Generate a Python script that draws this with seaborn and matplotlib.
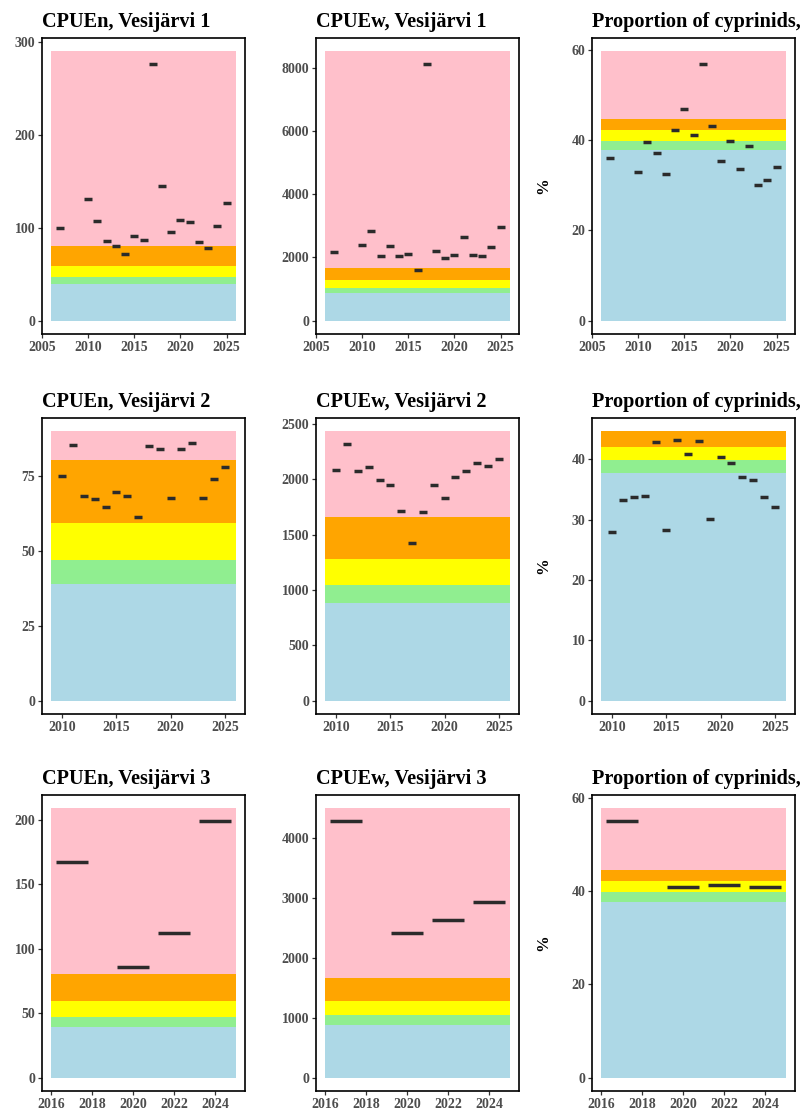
import numpy as np
import pandas as pd
import matplotlib
matplotlib.use("Agg")
import matplotlib.pyplot as plt
import seaborn as sns

# ---------------- data ----------------
years1 = [2007, 2010, 2011, 2012, 2013, 2014, 2015, 2016, 2017, 2018,
          2019, 2020, 2021, 2022, 2023, 2024, 2025]
cpuen1 = [99.6, 131, 107.3, 85.5, 80.8, 71.5, 90.8, 86.5, 276, 145.2,
          95.5, 108, 105.8, 84.7, 78, 101.9, 126.6]
cpuew1 = [2152, 2383, 2824, 2026, 2373, 2047, 2110, 1596, 8105, 2205,
          1984, 2079, 2656, 2068, 2037, 2341, 2950]
prop1 = [35.9, 32.9, 39.6, 37.1, 32.4, 42.3, 46.9, 41.2, 56.8, 43.0,
         35.4, 39.8, 33.5, 38.6, 30.1, 31.1, 33.9]

years2 = [2010, 2011, 2012, 2013, 2014, 2015, 2016, 2017, 2018, 2019,
          2020, 2021, 2022, 2023, 2024, 2025]
cpuen2 = [75, 85.6, 68.3, 67.3, 64.9, 69.7, 68.3, 61.3, 85.3, 84.2,
          67.7, 84.1, 86, 67.6, 74.2, 78.2]
cpuew2 = [2089, 2320, 2077, 2113, 1993, 1951, 1711, 1426, 1702, 1951,
          1828, 2020, 2074, 2152, 2119, 2188]
prop2 = [27.9, 33.2, 33.8, 33.85, 42.8, 28.2, 43.2, 40.8, 43.1, 30.05,
         40.4, 39.3, 37.1, 36.6, 33.7, 32.1]

years3 = [2017, 2020, 2022, 2024]
cpuen3 = [167.5, 85.9, 112, 199.2]
cpuew3 = [4289, 2411, 2633, 2933]
prop3 = [55, 40.95, 41.2, 40.8]

# class boundaries (blue, green, yellow, orange, pink start)
cpuen_bounds = [0, 39, 47, 59.3, 80.3]
cpuew_bounds = [0, 885, 1045, 1280, 1658]
prop_bounds = [0, 37.7, 39.8, 42.1, 44.6]
band_colors = ["lightblue", "lightgreen", "yellow", "orange", "pink"]

# upper end of the coloured background per panel
band_top = [[290, 8510, 59.6],
            [90, 2434, 44.6],
            [209, 4500, 57.7]]

titles = [["CPUEn, Vesijärvi 1", "CPUEw, Vesijärvi 1", "Proportion of cyprinids,"],
          ["CPUEn, Vesijärvi 2", "CPUEw, Vesijärvi 2", "Proportion of cyprinids,"],
          ["CPUEn, Vesijärvi 3", "CPUEw, Vesijärvi 3", "Proportion of cyprinids,"]]

yticks = [[[0, 100, 200, 300], [0, 2000, 4000, 6000, 8000], [0, 20, 40, 60]],
          [[0, 25, 50, 75], [0, 500, 1000, 1500, 2000, 2500], [0, 10, 20, 30, 40]],
          [[0, 50, 100, 150, 200], [0, 1000, 2000, 3000, 4000], [0, 20, 40, 60]]]
xticks = [[2005, 2010, 2015, 2020, 2025],
          [2010, 2015, 2020, 2025],
          [2016, 2018, 2020, 2022, 2024]]

rows = [(years1, [cpuen1, cpuew1, prop1]),
        (years2, [cpuen2, cpuew2, prop2]),
        (years3, [cpuen3, cpuew3, prop3])]
bounds = [cpuen_bounds, cpuew_bounds, prop_bounds]

# ---------------- style ----------------
sns.set_theme(style="ticks")
plt.rcParams["font.family"] = ["Liberation Serif", "DejaVu Serif"]
plt.rcParams["font.weight"] = "bold"

W, H = 803, 1110
fig = plt.figure(figsize=(W / 100, H / 100), dpi=100)
fig.patch.set_facecolor("white")

col_left = [42, 316, 592]
ax_w = 203
row_top = [38, 418, 795]
ax_h = 296

tick_color = "#4d4d4d"
dash_color = "#2b2b2b"

for r, (yrs, series) in enumerate(rows):
    x0b, x1b = min(yrs) - 1, max(yrs) + 1
    res = np.min(np.diff(yrs))
    for c in range(3):
        ax = fig.add_axes([col_left[c] / W, 1 - (row_top[r] + ax_h) / H, ax_w / W, ax_h / H])
        ax.set_facecolor("white")
        top = band_top[r][c]
        edges = bounds[c] + [top]
        for k in range(5):
            lo, hi = edges[k], min(edges[k + 1], top)
            if hi > lo:
                ax.fill_between([x0b, x1b], lo, hi, color=band_colors[k], linewidth=0, zorder=1)
        ex = 0.05 * (x1b - x0b)
        ax.set_xlim(x0b - ex, x1b + ex)
        ax.set_ylim(-0.05 * top, top * 1.05)

        # dash width in points from data resolution
        p0 = ax.transData.transform((0, 0))
        p1 = ax.transData.transform((1, 0))
        pts_per_unit = (p1[0] - p0[0]) * 72 / fig.dpi
        msize = 0.78 * res * pts_per_unit
        df = pd.DataFrame({"year": yrs, "value": series[c]})
        sns.scatterplot(data=df, x="year", y="value", ax=ax, marker="_",
                        s=msize ** 2, linewidth=2.5, color=dash_color, zorder=3)

        ax.set_xticks(xticks[r])
        ax.set_yticks(yticks[r][c])
        ax.set_xlabel("")
        ax.set_ylabel("")
        ax.tick_params(axis="both", which="major", length=3.2, width=0.9,
                       color="#333333", labelcolor=tick_color, labelsize=10, pad=1.5)
        for lab in ax.get_xticklabels() + ax.get_yticklabels():
            lab.set_fontweight("bold")
        for sp in ax.spines.values():
            sp.set_visible(True)
            sp.set_color("black")
            sp.set_linewidth(1.2)
        ax.set_title(titles[r][c], loc="left", fontsize=14.6, fontweight="bold",
                     color="black", pad=8)
        if c == 2:
            ax.set_ylabel("%", fontsize=12, fontweight="bold", color="black")
            ax.yaxis.set_label_coords(-0.2, 0.5)

fig.savefig("out.png", dpi=100, facecolor="white")
